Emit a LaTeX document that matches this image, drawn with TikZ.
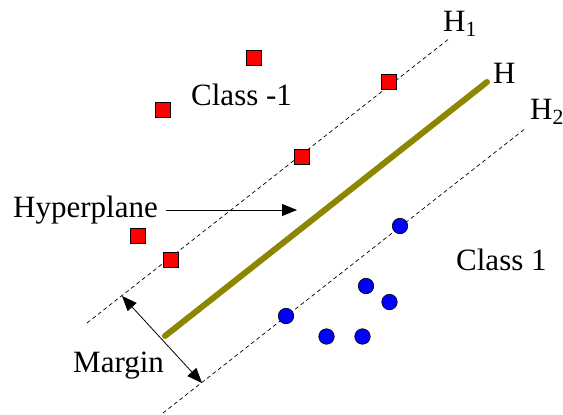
\documentclass[tikz,border=0pt]{standalone}
\usepackage{fontspec}
\setmainfont{Liberation Serif}
\usetikzlibrary{arrows.meta}

\begin{document}
\begin{tikzpicture}[x=1pt,y=-1pt,font=\fontsize{31}{36}\selectfont,negbox/.style={rectangle, draw=black, fill=red, minimum size=15pt, inner sep=0pt, line width=0.6pt},posdot/.style={circle, draw=black, fill=blue, minimum size=15.5pt, inner sep=0pt, line width=0.6pt},bound/.style={dash pattern=on 4pt off 3pt, line width=0.7pt},hyper/.style={line width=6pt, draw=olive, line cap=round},lbl/.style={inner sep=0pt, anchor=base west},pointer/.style={line width=0.8pt, -{Triangle[length=15pt,width=12pt]}}]
\useasboundingbox (0,0) rectangle (563,415);
% hyperplanes
\coordinate (H1a) at (87,323);\coordinate (H1b) at (450,38);\coordinate (H2a) at (163,413);\coordinate (H2b) at (526,128);\coordinate (Ha) at (165,336);\coordinate (Hb) at (487,82);
\draw[bound] (H1a) -- (H1b);\draw[bound] (H2a) -- (H2b);\draw[hyper] (Ha) -- (Hb);
% class -1
\node[negbox] (n1) at (254,58) {};\node[negbox] (n2) at (163,110) {};\node[negbox] (n3) at (389,82) {};\node[negbox] (n4) at (302,157) {};\node[negbox] (n5) at (138,236) {};\node[negbox] (n6) at (171,260) {};
% class 1
\node[posdot] (p1) at (400,226) {};\node[posdot] (p2) at (366,286) {};\node[posdot] (p3) at (389.5,302) {};\node[posdot] (p4) at (286,316) {};\node[posdot] (p5) at (326.5,336.5) {};\node[posdot] (p6) at (362.5,336.5) {};
% labels
\node[lbl] (lH1) at (443,31) {H\textsubscript{1}};\node[lbl] (lH) at (493,83) {H};\node[lbl] (lH2) at (530,119) {H\textsubscript{2}};
\node[lbl] (cneg) at (191,105) {Class -1};\node[lbl] (cpos) at (456,270) {Class 1};
\node[lbl] (hyp) at (13,217) {Hyperplane};\node[lbl] (mar) at (73,372) {Margin};
\coordinate (hypstart) at (166,210);\coordinate (hypend) at (297,210);\coordinate (mtop) at (122,296);\coordinate (mbot) at (202,383);
\draw[pointer] (hypstart) -- (hypend);
\draw[pointer, {Triangle[length=15pt,width=12pt]}-{Triangle[length=15pt,width=12pt]}] (mtop) -- (mbot);
\end{tikzpicture}
\end{document}
